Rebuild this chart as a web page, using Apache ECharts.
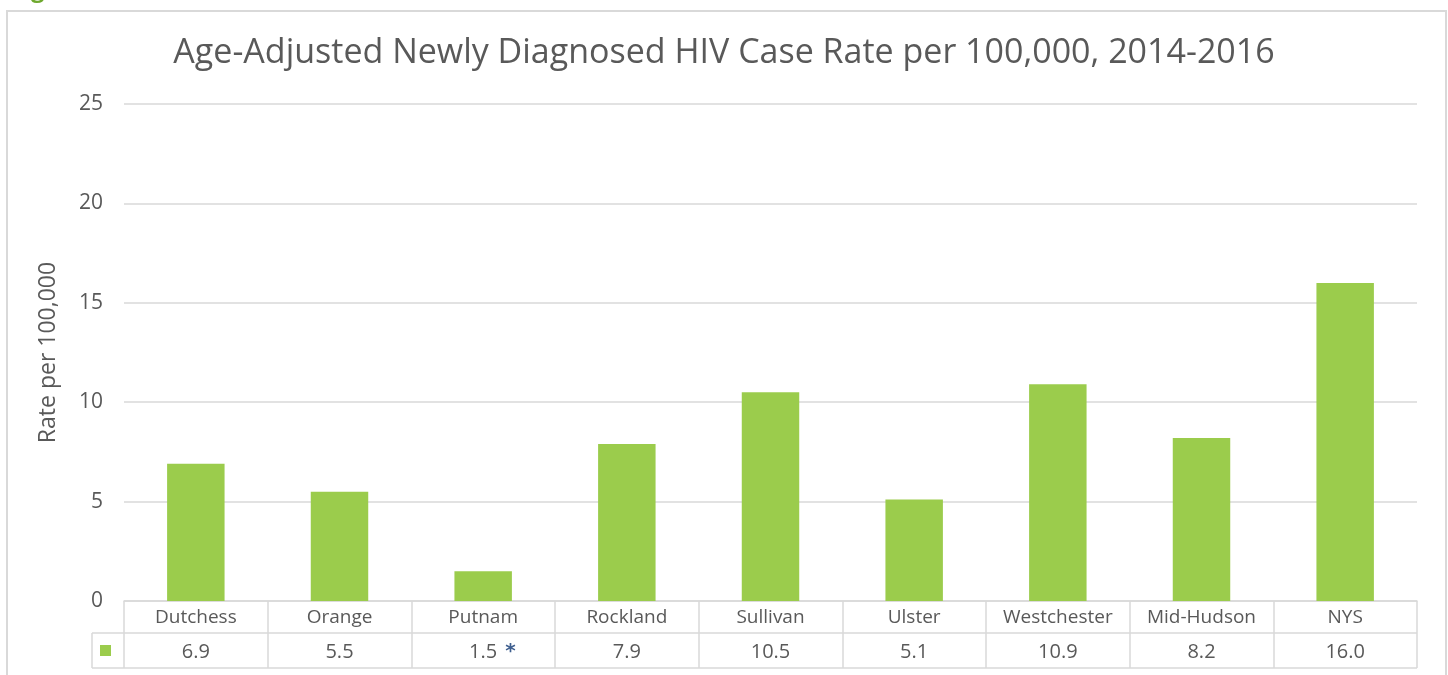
<!DOCTYPE html>
<html>
<head>
<meta charset="utf-8">
<title>Age-Adjusted Newly Diagnosed HIV Case Rate</title>
<script src="https://cdn.jsdelivr.net/npm/echarts@6/dist/echarts.min.js"></script>
<style>
  html, body { margin: 0; padding: 0; background: #ffffff; }
  #chart { width: 1448px; height: 675px; }
</style>
</head>
<body>
<div id="chart"></div>
<script>
// Regions and their age-adjusted rates per 100,000 (2014-2016)
const regions = ['Dutchess', 'Orange', 'Putnam', 'Rockland', 'Sullivan', 'Ulster', 'Westchester', 'Mid-Hudson', 'NYS'];
const rates = [6.9, 5.5, 1.5, 7.9, 10.5, 5.1, 10.9, 8.2, 16.0];
// Regions whose rate is flagged as unstable
const flagged = ['Putnam'];
const yTicks = { min: 0, max: 25, interval: 5 };

const FONT = '"Open Sans", Lato, "Noto Sans", sans-serif';
const TEXT = '#595959';
const LINE = '#d9d9d9';
const BAR = '#9bcc4c';

const chart = echarts.init(document.getElementById('chart'));

const grid = { left: 124, right: 31, top: 104, bottom: 74 };

chart.setOption({
  backgroundColor: '#ffffff',
  animation: false,
  title: {
    text: 'Age-Adjusted Newly Diagnosed HIV Case Rate per 100,000, 2014-2016',
    left: 'center',
    top: 31,
    textStyle: { fontFamily: FONT, fontSize: 34, fontWeight: 'normal', color: TEXT }
  },
  grid: grid,
  xAxis: {
    type: 'category',
    data: regions,
    axisLine: { show: true, lineStyle: { color: LINE, width: 1.5 } },
    axisTick: { show: true, alignWithLabel: false, length: 67, lineStyle: { color: LINE, width: 1.5 } },
    axisLabel: {
      margin: 0,
      interval: 0,
      formatter: (name, i) => `{n|${name}}\n{v|${rates[i].toFixed(1)}}`,
      rich: {
        n: { fontFamily: FONT, fontSize: 19, color: TEXT, lineHeight: 34, align: 'center' },
        v: { fontFamily: FONT, fontSize: 20, color: TEXT, lineHeight: 34, align: 'center' }
      }
    }
  },
  yAxis: {
    type: 'value',
    min: yTicks.min,
    max: yTicks.max,
    interval: yTicks.interval,
    name: 'Rate per 100,000',
    nameLocation: 'middle',
    nameGap: 64,
    nameRotate: 90,
    nameTextStyle: { fontFamily: FONT, fontSize: 23, color: TEXT },
    axisLine: { show: false },
    axisTick: { show: false },
    axisLabel: { margin: 21, fontFamily: FONT, fontSize: 21, color: TEXT },
    splitLine: { lineStyle: { color: LINE, width: 1.5 } }
  },
  series: [{
    type: 'bar',
    data: rates,
    barWidth: '40%',
    itemStyle: { color: BAR },
    silent: true
  }]
});

// Data table rules, legend key and footnote marker, placed from the grid geometry
function drawTable() {
  const c0 = chart.convertToPixel({ xAxisIndex: 0 }, 0);
  const step = chart.convertToPixel({ xAxisIndex: 0 }, 1) - c0;
  const x0 = c0 - step / 2;
  const x1 = x0 + step * regions.length;
  const yTop = chart.convertToPixel({ yAxisIndex: 0 }, 0);
  const yMid = yTop + 32;
  const yBot = yTop + 67;
  const keyLeft = x0 - 32;
  const lineStyle = { stroke: LINE, lineWidth: 1.5 };

  const elements = [
    // outer frame of the figure
    { type: 'rect', shape: { x: 7, y: 11, width: 1439, height: 700 }, style: { fill: 'none', stroke: LINE, lineWidth: 2 }, silent: true },
    // heading fragment above the frame
    { type: 'text', left: 31, top: -22, style: { text: 'g', fill: '#6ea82e', font: 'bold 24px ' + FONT }, silent: true },
    // row separators
    { type: 'line', shape: { x1: keyLeft, y1: yMid, x2: x1, y2: yMid }, style: lineStyle, silent: true },
    { type: 'line', shape: { x1: keyLeft, y1: yBot, x2: x1, y2: yBot }, style: lineStyle, silent: true },
    { type: 'line', shape: { x1: keyLeft, y1: yMid, x2: keyLeft, y2: yBot }, style: lineStyle, silent: true },
    // legend key
    { type: 'rect', shape: { x: keyLeft + 8, y: (yMid + yBot) / 2 - 5.5, width: 11, height: 11 }, style: { fill: BAR }, silent: true }
  ];

  flagged.forEach(name => {
    const cx = chart.convertToPixel({ xAxisIndex: 0 }, name);
    elements.push({
      type: 'text',
      x: cx + 22,
      y: (yMid + yBot) / 2 + 1,
      style: { text: '*', fill: '#3f5f8f', font: 'bold 20px "DejaVu Sans", sans-serif', textAlign: 'left', textVerticalAlign: 'middle' },
      silent: true
    });
  });

  chart.setOption({ graphic: { elements: elements } });
}
drawTable();
</script>
</body>
</html>
